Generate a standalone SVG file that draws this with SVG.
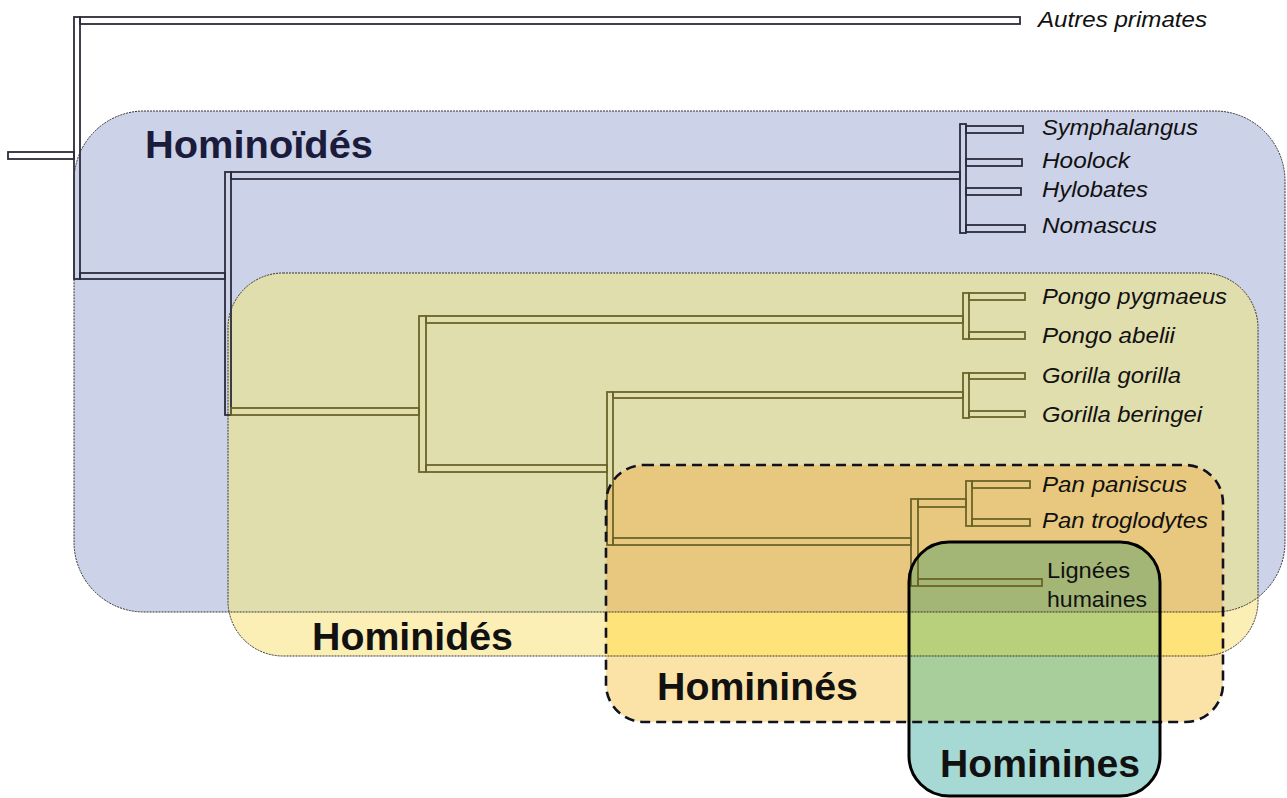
<svg xmlns="http://www.w3.org/2000/svg" width="1287" height="798" viewBox="0 0 1287 798">
<style>
.bd{fill:none;stroke:#2b2b3b;stroke-width:1.8}
.bo{fill:none;stroke:#6b6428;stroke-width:1.8}
.sp{font-family:"Liberation Sans",Arial,sans-serif;font-style:italic;font-size:22px;fill:#111}
.lg{font-family:"Liberation Sans",Arial,sans-serif;font-size:22px;fill:#111}
.cl{font-family:"Liberation Sans",Arial,sans-serif;font-weight:bold;font-size:39px;fill:#111}
.thin{fill:none;stroke:#333;stroke-width:1;stroke-dasharray:2 1}
</style>
<defs>
<clipPath id="cB"><rect x="74" y="111" width="1211" height="501" rx="70"/></clipPath>
<clipPath id="cD"><rect x="228" y="273" width="1030" height="383" rx="55"/></clipPath>
<clipPath id="cN"><rect x="606" y="465" width="617" height="257" rx="38"/></clipPath>
</defs>
<rect width="1287" height="798" fill="#ffffff"/>
<g id="fills">
<rect x="74" y="111" width="1211" height="501" rx="70" fill="#ccd2e8"/>
<rect x="228" y="273" width="1030" height="383" rx="55" fill="#fcefb6"/>
<g clip-path="url(#cB)"><rect x="228" y="273" width="1030" height="383" rx="55" fill="#e1deae"/></g>
<rect x="606" y="465" width="617" height="257" rx="38" fill="#fbe3a8"/>
<g clip-path="url(#cD)"><rect x="606" y="465" width="617" height="257" rx="38" fill="#fde37a"/></g>
<g clip-path="url(#cB)"><g clip-path="url(#cD)"><rect x="606" y="465" width="617" height="257" rx="38" fill="#e8c87e"/></g></g>
<rect x="909" y="542" width="251" height="254" rx="40" fill="#a6d8d4"/>
<g clip-path="url(#cN)"><rect x="909" y="542" width="251" height="254" rx="40" fill="#a8cf9b"/></g>
<g clip-path="url(#cN)"><g clip-path="url(#cD)"><rect x="909" y="542" width="251" height="254" rx="40" fill="#b8cf7c"/></g></g>
<g clip-path="url(#cN)"><g clip-path="url(#cD)"><g clip-path="url(#cB)"><rect x="909" y="542" width="251" height="254" rx="40" fill="#a4b676"/></g></g></g>
</g>
<g id="connectors">
<rect class="bd" x="8" y="152" width="66" height="7"/>
<rect class="bd" x="74" y="17" width="6" height="262"/>
<rect class="bd" x="80" y="17" width="940" height="7"/>
<rect class="bd" x="80" y="273" width="145" height="6"/>
<rect class="bd" x="225" y="172" width="6" height="243"/>
<rect class="bd" x="231" y="172" width="729" height="7"/>
<rect class="bd" x="960" y="124" width="6" height="109"/>
<rect class="bd" x="966" y="126" width="57" height="7"/>
<rect class="bd" x="966" y="159" width="56" height="7"/>
<rect class="bd" x="966" y="188" width="55" height="7"/>
<rect class="bd" x="966" y="225" width="59" height="7"/>
<rect class="bo" x="231" y="408" width="188" height="7"/>
<rect class="bo" x="419" y="316" width="7" height="156"/>
<rect class="bo" x="426" y="316" width="537" height="7"/>
<rect class="bo" x="963" y="293" width="6" height="46"/>
<rect class="bo" x="969" y="293" width="56" height="7"/>
<rect class="bo" x="969" y="332" width="56" height="7"/>
<rect class="bo" x="426" y="465" width="181" height="7"/>
<rect class="bo" x="607" y="392" width="6" height="153"/>
<rect class="bo" x="613" y="392" width="350" height="6"/>
<rect class="bo" x="963" y="373" width="6" height="45"/>
<rect class="bo" x="969" y="373" width="56" height="6"/>
<rect class="bo" x="969" y="411" width="56" height="6"/>
<rect class="bo" x="613" y="538" width="298" height="7"/>
<rect class="bo" x="911" y="499" width="7" height="87"/>
<rect class="bo" x="918" y="499" width="48" height="8"/>
<rect class="bo" x="966" y="481" width="6" height="45"/>
<rect class="bo" x="972" y="481" width="58" height="7"/>
<rect class="bo" x="972" y="519" width="58" height="7"/>
<rect class="bo" x="918" y="579" width="124" height="7"/>
</g>
<g id="hominoides">
<rect class="thin" x="74" y="111" width="1211" height="501" rx="70"/>
<text class="cl" x="145" y="158" textLength="228" lengthAdjust="spacingAndGlyphs" style="fill:#1b1b3b">Hominoïdés</text>
</g>
<g id="hominides">
<rect class="thin" x="228" y="273" width="1030" height="383" rx="55"/>
<text class="cl" x="312" y="650" textLength="201" lengthAdjust="spacingAndGlyphs">Hominidés</text>
</g>
<g id="homines">
<rect x="606" y="465" width="617" height="257" rx="38" fill="none" stroke="#111122" stroke-width="2.6" stroke-dasharray="10 6"/>
<text class="cl" x="657" y="700" textLength="201" lengthAdjust="spacingAndGlyphs">Homininés</text>
</g>
<g id="hominines">
<rect x="909" y="542" width="251" height="254" rx="40" fill="none" stroke="#000" stroke-width="3"/>
<text class="cl" x="940" y="777" font-size="38" textLength="200" lengthAdjust="spacingAndGlyphs">Hominines</text>
</g>
<g id="autres"><text class="sp" x="1038" y="27" textLength="169" lengthAdjust="spacingAndGlyphs">Autres primates</text></g>
<g id="symphalangus"><text class="sp" x="1042" y="135" textLength="156" lengthAdjust="spacingAndGlyphs">Symphalangus</text></g>
<g id="hoolock"><text class="sp" x="1042" y="168" textLength="88" lengthAdjust="spacingAndGlyphs">Hoolock</text></g>
<g id="hylobates"><text class="sp" x="1042" y="197" textLength="106" lengthAdjust="spacingAndGlyphs">Hylobates</text></g>
<g id="nomascus"><text class="sp" x="1042" y="233" textLength="115" lengthAdjust="spacingAndGlyphs">Nomascus</text></g>
<g id="pongo-pygmaeus"><text class="sp" x="1042" y="304" textLength="185" lengthAdjust="spacingAndGlyphs">Pongo pygmaeus</text></g>
<g id="pongo-abelii"><text class="sp" x="1042" y="343" textLength="133" lengthAdjust="spacingAndGlyphs">Pongo abelii</text></g>
<g id="gorilla-gorilla"><text class="sp" x="1042" y="383" textLength="139" lengthAdjust="spacingAndGlyphs">Gorilla gorilla</text></g>
<g id="gorilla-beringei"><text class="sp" x="1042" y="422" textLength="160" lengthAdjust="spacingAndGlyphs">Gorilla beringei</text></g>
<g id="pan-paniscus"><text class="sp" x="1042" y="492" textLength="145" lengthAdjust="spacingAndGlyphs">Pan paniscus</text></g>
<g id="pan-troglodytes"><text class="sp" x="1042" y="528" textLength="166" lengthAdjust="spacingAndGlyphs">Pan troglodytes</text></g>
<g id="lignees-humaines">
<text class="lg" x="1047" y="578" textLength="83" lengthAdjust="spacingAndGlyphs">Lignées</text>
<text class="lg" x="1047" y="607" textLength="100" lengthAdjust="spacingAndGlyphs">humaines</text>
</g>
</svg>
